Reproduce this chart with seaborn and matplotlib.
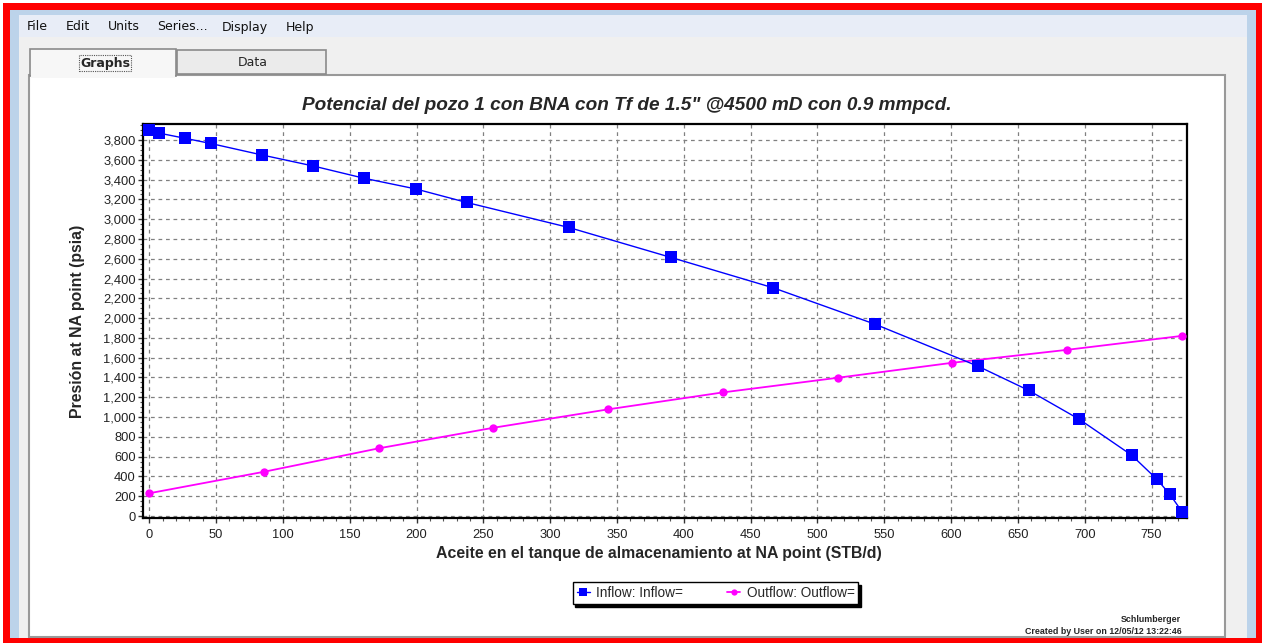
import matplotlib
matplotlib.use("Agg")
import matplotlib.pyplot as plt
import matplotlib.patches as mpatches
from matplotlib.ticker import MultipleLocator, FuncFormatter
import numpy as np
import pandas as pd
import seaborn as sns

# values
inflow_q = [0, 7.3, 26.6, 46, 84, 122.6, 160.6, 199.3, 237.5, 314, 390.5, 467,
            543, 620, 658, 696, 735, 754, 763.5, 773]
inflow_p = [3899, 3870, 3818, 3765, 3650, 3538, 3414, 3306, 3169, 2916, 2613, 2306,
            1939, 1515, 1270, 977, 616, 371, 222, 40]
outflow_q = [0, 85.8, 171.7, 257.5, 343.3, 429, 515, 601, 687, 773]
outflow_p = [230, 447, 684, 892, 1078, 1249, 1397, 1549, 1680, 1821]

title = 'Potencial del pozo 1 con BNA con Tf de 1.5" @4500 mD con 0.9 mmpcd.'
xlabel = "Aceite en el tanque de almacenamiento at NA point (STB/d)"
ylabel = "Presión at NA point (psia)"
menu_items = ["File", "Edit", "Units", "Series...", "Display", "Help"]
menu_x = [27, 66, 108, 157, 222, 286]

W, H = 1262, 643
sns.set_style("white")
plt.rcParams["font.family"] = ["Liberation Sans", "DejaVu Sans"]

fig = plt.figure(figsize=(W / 100, H / 100), dpi=100)


def fx(x):
    return x / W


def fy(y):
    return 1 - y / H


def box(x0, y0, x1, y1, **kw):
    kw.setdefault("zorder", -10)
    r = mpatches.Rectangle((fx(x0), fy(y1)), (x1 - x0) / W, (y1 - y0) / H,
                           transform=fig.transFigure, **kw)
    fig.patches.append(r)
    return r


# window chrome
box(3, 3, W, H, facecolor="#ff0000", edgecolor="none", zorder=-20)
box(10, 10, 1256, 638, facecolor="#bcd3ea", edgecolor="none", zorder=-19)
box(19, 15, 1247, 638, facecolor="#f0f0f0", edgecolor="none", zorder=-18)
box(19, 15, 1247, 37, facecolor="#e8edf7", edgecolor="none", zorder=-17)
box(29, 75, 1225, 637, facecolor="white", edgecolor="#999999", lw=1.5, zorder=-16)
box(177, 50, 326, 74, facecolor="#ebebeb", edgecolor="#8a8a8a", lw=1.2, zorder=-15)
box(30, 49, 176, 76, facecolor="#f7f7f7", edgecolor="#8a8a8a", lw=1.2, zorder=-14)
box(31, 74, 175, 78, facecolor="#f7f7f7", edgecolor="none", zorder=-13)
box(79, 55, 131, 71, facecolor="none", edgecolor="#555555", lw=0.8,
    linestyle=(0, (1, 1)), zorder=-12)

for name, x in zip(menu_items, menu_x):
    fig.text(fx(x), fy(27), name, fontsize=9, family="DejaVu Sans",
             va="center", ha="left", color="#111111")
fig.text(fx(105), fy(63), "Graphs", fontsize=9, fontweight="bold", ha="center",
         va="center", family="DejaVu Sans")
fig.text(fx(253), fy(62), "Data", fontsize=9, ha="center", va="center",
         family="DejaVu Sans")

# plot area
ax = fig.add_axes([fx(142.7), fy(518.3), (1187 - 142.7) / W, (518.3 - 124) / H])
ax.set_zorder(2)

df_in = pd.DataFrame({"q": inflow_q, "p": inflow_p})
df_out = pd.DataFrame({"q": outflow_q, "p": outflow_p})
sns.lineplot(data=df_in, x="q", y="p", ax=ax, color="#0000ff", lw=1.0,
             marker="s", markersize=8, markeredgewidth=0, label="Inflow: Inflow=",
             sort=False, estimator=None, zorder=4)
sns.lineplot(data=df_out, x="q", y="p", ax=ax, color="#ff00ff", lw=1.3,
             marker="o", markersize=6, markeredgewidth=0, label="Outflow: Outflow=",
             sort=False, estimator=None, zorder=3)

ax.set_xlim(-4.9, 776.5)
ax.set_ylim(-23, 3962)
ax.xaxis.set_major_locator(MultipleLocator(50))
ax.xaxis.set_minor_locator(MultipleLocator(10))
ax.yaxis.set_major_locator(MultipleLocator(200))
ax.yaxis.set_minor_locator(MultipleLocator(50))
ax.yaxis.set_major_formatter(FuncFormatter(lambda v, _: f"{int(v):,}"))
ax.tick_params(which="major", direction="out", length=3.5, width=1, color="#333333",
               labelsize=9.3, labelcolor="#222222", bottom=True, left=True)
ax.tick_params(axis="x", which="major", pad=4.5)
ax.tick_params(axis="y", which="major", pad=1.5)
ax.tick_params(which="minor", direction="out", length=2, width=0.8, color="#555555",
               bottom=True, left=True)
ax.grid(True, which="major", color="#808080", lw=0.9, linestyle=(0, (3, 3)))
for s in ax.spines.values():
    s.set_visible(True)
    s.set_color("black")
    s.set_linewidth(1.6)

ax.set_xlabel(xlabel, fontsize=11.4, fontweight="bold")
ax.set_ylabel(ylabel, fontsize=11.4, fontweight="bold")
ax.xaxis.set_label_coords(0.494, -0.070)
ax.yaxis.set_label_coords(-0.0553, 0.5)

handles, labels = ax.get_legend_handles_labels()
ax.get_legend().remove()
fig.legend(handles, labels, loc="center", bbox_to_anchor=(fx(715.5), fy(593)),
           ncol=2, fontsize=9.8, frameon=True, fancybox=False, edgecolor="black",
           shadow={"color": "black", "alpha": 1}, handlelength=1.0, markerscale=0.75,
           columnspacing=3.2, borderpad=0.3, handletextpad=0.45, framealpha=1)

fig.text(fx(627), fy(105), title, fontsize=13.7, fontweight="bold", style="italic",
         ha="center", va="center")
fig.text(fx(1181), fy(620), "Schlumberger", fontsize=6.4, fontweight="bold",
         ha="right", va="center")
fig.text(fx(1182), fy(632), "Created by User on 12/05/12 13:22:46", fontsize=6.4,
         fontweight="bold", ha="right", va="center")

fig.savefig("out.png", dpi=100)
